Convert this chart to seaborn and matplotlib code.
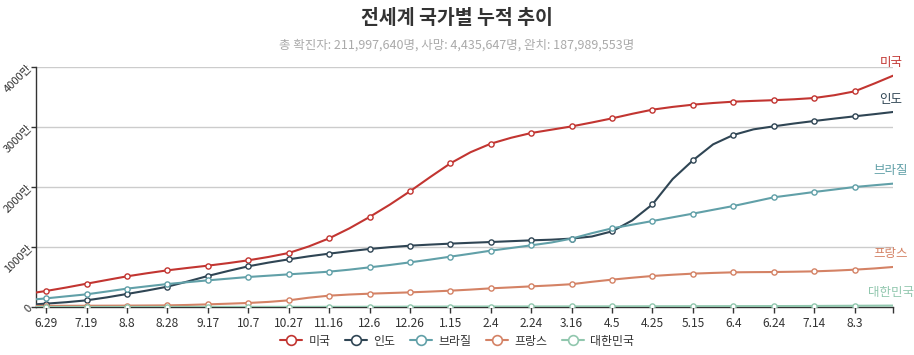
import numpy as np
import pandas as pd
import matplotlib
matplotlib.use("Agg")
import matplotlib.pyplot as plt
from matplotlib.lines import Line2D
import seaborn as sns

# ---- data (values in 만 = 10,000 people) ----
DATES = ["2020-06-24", "2020-06-29", "2020-07-09", "2020-07-19", "2020-07-29",
         "2020-08-08", "2020-08-18", "2020-08-28", "2020-09-07", "2020-09-17",
         "2020-09-27", "2020-10-07", "2020-10-17", "2020-10-27", "2020-11-06",
         "2020-11-16", "2020-11-26", "2020-12-06", "2020-12-16", "2020-12-26",
         "2021-01-05", "2021-01-15", "2021-01-25", "2021-02-04", "2021-02-14",
         "2021-02-24", "2021-03-06", "2021-03-16", "2021-03-26", "2021-04-05",
         "2021-04-15", "2021-04-25", "2021-05-05", "2021-05-15", "2021-05-25",
         "2021-06-04", "2021-06-14", "2021-06-24", "2021-07-04", "2021-07-14",
         "2021-07-24", "2021-08-03", "2021-08-13", "2021-08-22"]

US = [242, 267, 325, 388, 450, 511, 563, 611, 651, 689, 731, 778, 834, 900, 1010,
      1144, 1310, 1500, 1705, 1928, 2165, 2394, 2580, 2722, 2820, 2900, 2955, 3010,
      3075, 3144, 3220, 3289, 3335, 3372, 3400, 3422, 3435, 3447, 3462, 3483, 3530,
      3594, 3728, 3855]
INDIA = [45, 56, 80, 111, 160, 217, 275, 339, 425, 517, 600, 678, 740, 794, 845,
         889, 930, 967, 997, 1022, 1040, 1056, 1070, 1083, 1097, 1111, 1122, 1140,
         1175, 1261, 1444, 1711, 2133, 2444, 2711, 2867, 2961, 3011, 3058, 3100,
         3140, 3178, 3215, 3250]
BRAZIL = [128, 144, 178, 211, 258, 306, 345, 383, 414, 444, 472, 500, 522, 544, 566,
          589, 622, 661, 700, 744, 790, 839, 888, 939, 983, 1028, 1075, 1140, 1230,
          1311, 1372, 1433, 1495, 1556, 1620, 1683, 1755, 1828, 1872, 1917, 1958,
          2000, 2030, 2056]
FRANCE = [17, 20, 20, 21, 22, 23, 25, 27, 34, 44, 55, 67, 85, 111, 155, 189, 208,
          222, 233, 244, 257, 272, 290, 311, 327, 344, 360, 380, 420, 456, 488, 517,
          538, 556, 568, 578, 581, 583, 588, 594, 606, 622, 643, 667]
KOREA = [1.2, 1.3, 1.3, 1.4, 1.4, 1.5, 1.6, 1.9, 2.1, 2.3, 2.4, 2.4, 2.5, 2.6, 2.7,
         2.9, 3.2, 3.7, 4.5, 5.7, 6.5, 7.1, 7.5, 7.9, 8.5, 8.8, 9.2, 9.7, 10.1, 10.5,
         11.3, 12.0, 12.7, 13.2, 13.8, 14.3, 14.9, 15.5, 16.2, 17.5, 19.2, 20.5,
         22.0, 23.5]

COUNTRIES = ["미국", "인도", "브라질", "프랑스", "대한민국"]
COLORS = ["#c23531", "#2f4554", "#61a0a8", "#d48265", "#91c7ae"]

TICK_DATES = ["2020-06-29", "2020-07-19", "2020-08-08", "2020-08-28", "2020-09-17",
              "2020-10-07", "2020-10-27", "2020-11-16", "2020-12-06", "2020-12-26",
              "2021-01-15", "2021-02-04", "2021-02-24", "2021-03-16", "2021-04-05",
              "2021-04-25", "2021-05-15", "2021-06-04", "2021-06-24", "2021-07-14",
              "2021-08-03"]
TICK_LABELS = ["6.29", "7.19", "8.8", "8.28", "9.17", "10.7", "10.27", "11.16",
               "12.6", "12.26", "1.15", "2.4", "2.24", "3.16", "4.5", "4.25",
               "5.15", "6.4", "6.24", "7.14", "8.3"]
Y_TICKS = [0, 1000, 2000, 3000, 4000]
Y_LABELS = ["0", "1000만", "2000만", "3000만", "4000만"]

TITLE = "전세계 국가별 누적 추이"
SUBTITLE = "총 확진자: 211,997,640명, 사망: 4,435,647명, 완치: 187,989,553명"

# ---- long table ----
series = {"미국": US, "인도": INDIA, "브라질": BRAZIL, "프랑스": FRANCE, "대한민국": KOREA}
frames = []
for name, vals in series.items():
    frames.append(pd.DataFrame({"date": pd.to_datetime(DATES), "value": vals,
                                "country": name}))
df = pd.concat(frames, ignore_index=True)
df["marker"] = df["date"].isin(pd.to_datetime(TICK_DATES))

# ---- style ----
sns.set_style("white")
plt.rcParams["font.family"] = ["Noto Sans CJK KR", "DejaVu Sans"]
TXT = "#333333"

fig = plt.figure(figsize=(9.14, 3.55), dpi=100)
ax = fig.add_axes([36 / 914, 48 / 355, 857 / 914, 240 / 355])

sns.lineplot(data=df, x="date", y="value", hue="country", hue_order=COUNTRIES,
             palette=COLORS, linewidth=1.5, legend=False, ax=ax, zorder=3)

for name, col in zip(COUNTRIES, COLORS):
    sub = df[(df["country"] == name) & df["marker"]]
    sns.scatterplot(data=sub, x="date", y="value", color="white", edgecolor=col,
                    s=14, linewidth=1.0, ax=ax, zorder=4, legend=False)
    last = df[df["country"] == name].iloc[-1]
    ax.annotate(name, (last["date"], last["value"]), xytext=(-2, 13),
                textcoords="offset pixels", ha="center", va="center",
                fontsize=9, color=col, annotation_clip=False)

ax.set_xlim(pd.Timestamp(DATES[0]), pd.Timestamp(DATES[-1]))
ax.set_ylim(0, 4000)
ax.set_xticks(pd.to_datetime(TICK_DATES))
ax.set_xticklabels(TICK_LABELS, fontsize=8.6, color=TXT)
ax.set_xticks([pd.Timestamp(DATES[-1])], minor=True)
ax.set_yticks(Y_TICKS)
ax.set_yticklabels(Y_LABELS, fontsize=8, color=TXT, rotation=45,
                   rotation_mode="anchor", ha="right", va="center")
ax.tick_params(axis="x", which="both", direction="out", length=4, width=1,
               color=TXT, pad=3, bottom=True)
ax.tick_params(axis="y", direction="out", length=3.5, width=1, color=TXT, pad=0.5,
               left=True)
ax.set_xlabel("")
ax.set_ylabel("")

ax.grid(axis="y", color="#cccccc", linewidth=1)
ax.grid(axis="x", visible=False)
for s in ["top", "right"]:
    ax.spines[s].set_visible(False)
for s in ["left", "bottom"]:
    ax.spines[s].set_color(TXT)
    ax.spines[s].set_linewidth(1)

# ---- title / subtitle ----
fig.text(0.5, 1 - 18 / 355, TITLE, ha="center", va="center", fontsize=14,
         fontweight="bold", color=TXT)
fig.text(0.5, 1 - 45 / 355, SUBTITLE, ha="center", va="center", fontsize=9,
         color="#aaaaaa")

# ---- legend ----
handles = [Line2D([0], [0], color=c, linewidth=1.5, marker="o", markersize=7,
                  markerfacecolor="white", markeredgecolor=c, markeredgewidth=1.2)
           for c in COLORS]
fig.legend(handles, COUNTRIES, loc="center", bbox_to_anchor=(0.5, 14 / 355),
           ncol=5, frameon=False, fontsize=8.6, handlelength=1.9,
           handletextpad=0.5, columnspacing=1.2, labelcolor=TXT)

fig.savefig("out.png", dpi=100)
